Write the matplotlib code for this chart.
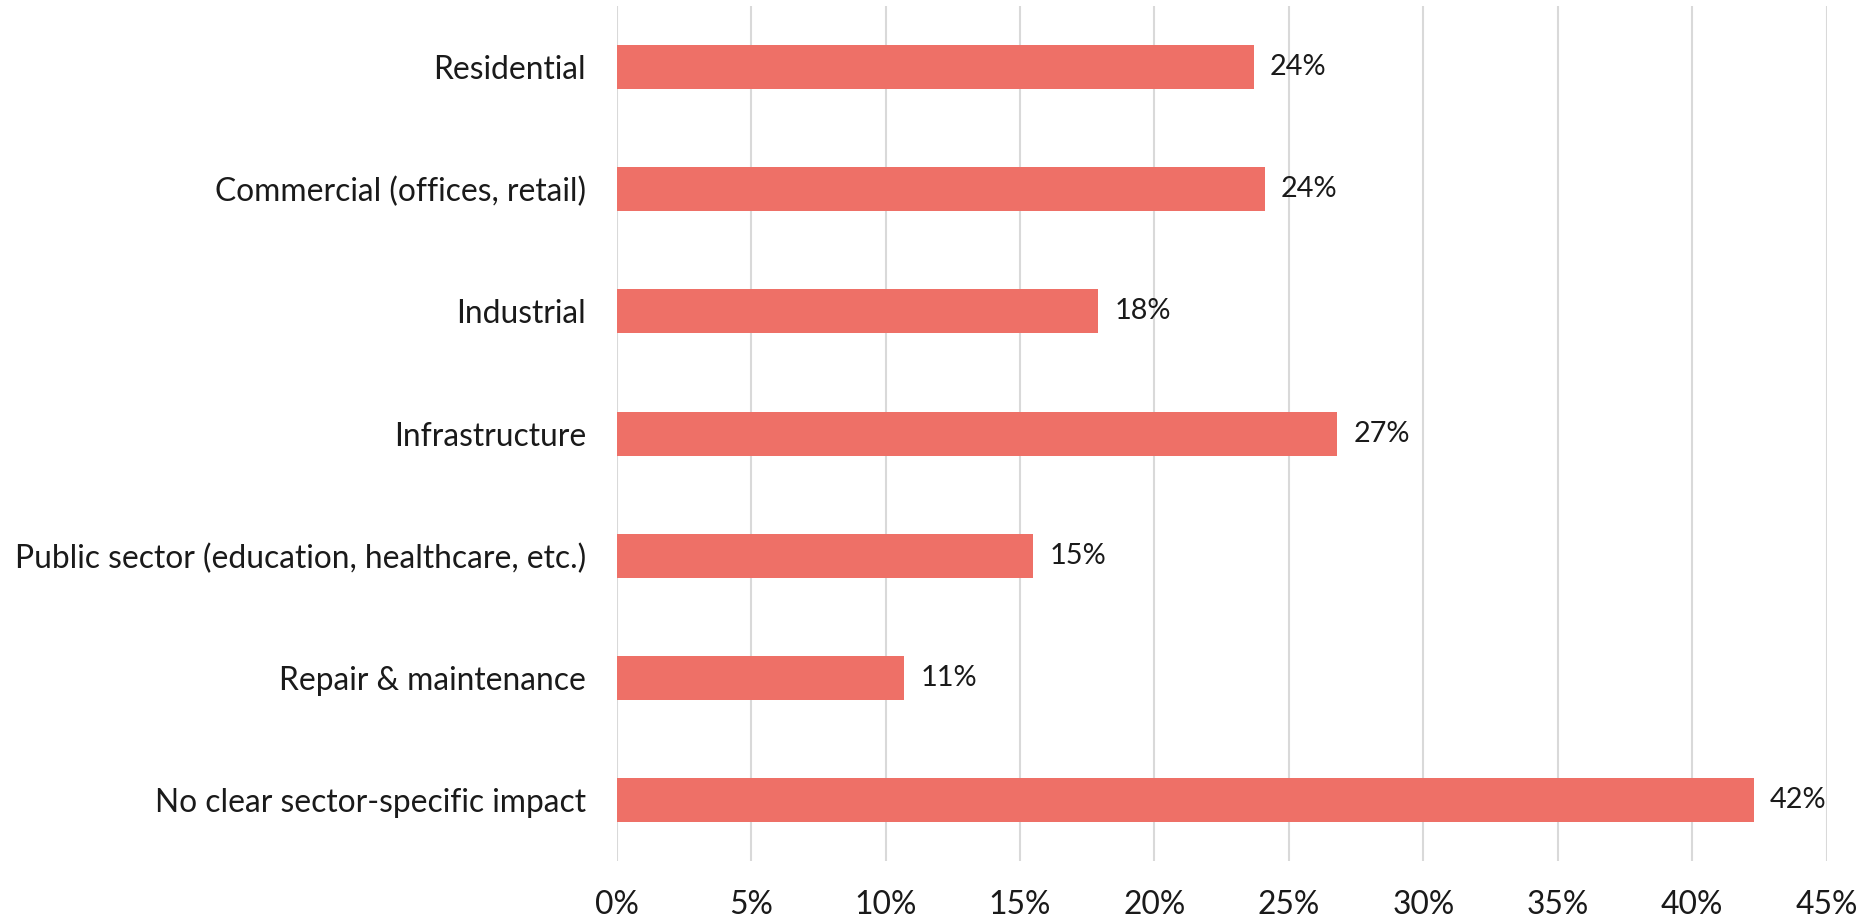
import matplotlib
matplotlib.use("Agg")
import matplotlib.pyplot as plt
from matplotlib.ticker import FuncFormatter, MultipleLocator

categories = [
    "Residential",
    "Commercial (offices, retail)",
    "Industrial",
    "Infrastructure",
    "Public sector (education, healthcare, etc.)",
    "Repair & maintenance",
    "No clear sector-specific impact",
]
values = [23.7, 24.1, 17.9, 26.8, 15.5, 10.7, 42.3]
labels = ["24%", "24%", "18%", "27%", "15%", "11%", "42%"]

plt.rcParams['font.family'] = ['Lato', 'DejaVu Sans']

fig = plt.figure(figsize=(18.7, 9.21), dpi=100)
ax = fig.add_axes([0.3298, 0.0650, 0.9768 - 0.3298, 0.9935 - 0.0650])

bar_color = "#EE7067"
ypos = list(range(len(categories)))
ax.barh(ypos, values, height=0.36, color=bar_color, zorder=3)

for y, v, t in zip(ypos, values, labels):
    ax.text(v + 0.6, y, t, va="center", ha="left", fontsize=20.8, color="#1a1a1a")

ax.set_xlim(0, 45)
ax.set_ylim(len(categories) - 0.5, -0.5)
ax.set_yticks(ypos)
ax.set_yticklabels(categories)
ax.xaxis.set_major_locator(MultipleLocator(5))
ax.xaxis.set_major_formatter(FuncFormatter(lambda x, p: f"{int(round(x))}%"))

ax.grid(axis="x", color="#D9D9D9", linewidth=1.5, zorder=0)
ax.set_axisbelow(True)
for s in ax.spines.values():
    s.set_visible(False)
ax.tick_params(axis="y", length=0, pad=22, labelsize=22.85, labelcolor="#1a1a1a")
ax.tick_params(axis="x", length=0, pad=21, labelsize=22.85, labelcolor="#1a1a1a")

fig.savefig("out.png", dpi=100)
